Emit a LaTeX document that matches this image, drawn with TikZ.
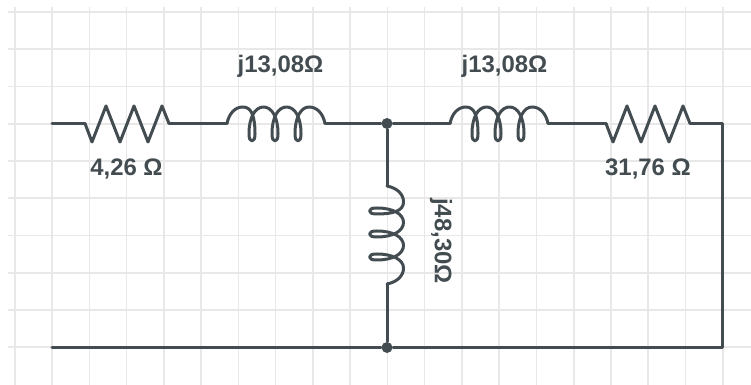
\documentclass[tikz,border=0pt]{standalone}
\usepackage{fontspec}
\setmainfont{Liberation Sans}
\definecolor{wirecol}{HTML}{434C50}
\definecolor{gridcol}{HTML}{E8E8E8}
\tikzset{
	wire/.style={draw=wirecol,line width=0.03cm,line join=round,line cap=round},
	lbl/.style={text=wirecol,font=\fontsize{6.8}{8}\selectfont\bfseries,inner sep=0pt},
	dot/.style={circle,fill=wirecol,minimum size=0.11cm,inner sep=0pt},
	resistor/.pic={
		\draw[wire] (0,0)--(0.07,-0.185)--(0.21,0.175)--(0.35,-0.185)--(0.49,0.175)--(0.63,-0.185)--(0.77,0.175)--(0.84,0);
	},
	coil/.pic={
		\draw[wire] (0,0) .. controls (0.02,0.10) and (0.08,0.165) .. (0.16,0.165)
			.. controls (0.25,0.165) and (0.28,0.06) .. (0.28,-0.1)
			.. controls (0.28,-0.15) and (0.27,-0.175) .. (0.25,-0.175)
			.. controls (0.23,-0.175) and (0.22,-0.15) .. (0.22,-0.1)
			.. controls (0.22,0.06) and (0.28,0.165) .. (0.365,0.165)
			.. controls (0.45,0.165) and (0.51,0.06) .. (0.51,-0.1)
			.. controls (0.51,-0.15) and (0.50,-0.175) .. (0.48,-0.175)
			.. controls (0.46,-0.175) and (0.45,-0.15) .. (0.45,-0.1)
			.. controls (0.45,0.06) and (0.51,0.165) .. (0.595,0.165)
			.. controls (0.68,0.165) and (0.74,0.06) .. (0.74,-0.1)
			.. controls (0.74,-0.15) and (0.73,-0.175) .. (0.71,-0.175)
			.. controls (0.69,-0.175) and (0.68,-0.15) .. (0.68,-0.1)
			.. controls (0.68,0.06) and (0.74,0.165) .. (0.82,0.165)
			.. controls (0.90,0.165) and (0.96,0.10) .. (0.98,0);
	}
}
\begin{document}
\begin{tikzpicture}[line join=round]
	\useasboundingbox (0,0) rectangle (7.51,-3.85);
	% grid
	\foreach \i in {0,...,19} \draw[gridcol,line width=0.016cm] (0.148+0.3726*\i,-0.07)--(0.148+0.3726*\i,-3.85);
	\foreach \j in {0,...,9} \draw[gridcol,line width=0.018cm] (0.08,-0.12-0.3725*\j)--(7.51,-0.12-0.3725*\j);
	% nodes
	\coordinate (in) at (0.52,-1.235);
	\coordinate (r1a) at (0.85,-1.235);
	\coordinate (r1b) at (1.69,-1.235);
	\coordinate (l1a) at (2.27,-1.235);
	\coordinate (l1b) at (3.25,-1.235);
	\node[dot] (top) at (3.87,-1.235) {};
	\coordinate (l2a) at (4.50,-1.235);
	\coordinate (l2b) at (5.48,-1.235);
	\coordinate (r2a) at (6.06,-1.235);
	\coordinate (r2b) at (6.90,-1.235);
	\coordinate (cnr) at (7.225,-1.235);
	\coordinate (l3a) at (3.87,-1.86);
	\coordinate (l3b) at (3.87,-2.84);
	\node[dot] (bot) at (3.87,-3.475) {};
	\coordinate (out) at (0.52,-3.475);
	\coordinate (cnb) at (7.225,-3.475);
	% parts
	\pic at (r1a) {resistor};
	\pic at (r2a) {resistor};
	\pic at (l1a) {coil};
	\pic at (l2a) {coil};
	\pic[rotate=-90] at (l3a) {coil};
	% wires
	\draw[wire] (in)--(r1a) (r1b)--(l1a) (l1b)--(top)--(l2a) (l2b)--(r2a) (r2b)--(cnr)--(cnb)--(bot)--(out);
	\draw[wire] (top)--(l3a) (l3b)--(bot);
	% labels
	\node[lbl] (t1) at (1.265,-1.69) {4,26 Ω};
	\node[lbl] (t2) at (2.805,-0.66) {j13,08Ω};
	\node[lbl] (t3) at (5.045,-0.66) {j13,08Ω};
	\node[lbl] (t4) at (6.48,-1.69) {31,76 Ω};
	\node[lbl,rotate=-90] (t5) at (4.41,-2.41) {j48,30Ω};
\end{tikzpicture}
\end{document}
